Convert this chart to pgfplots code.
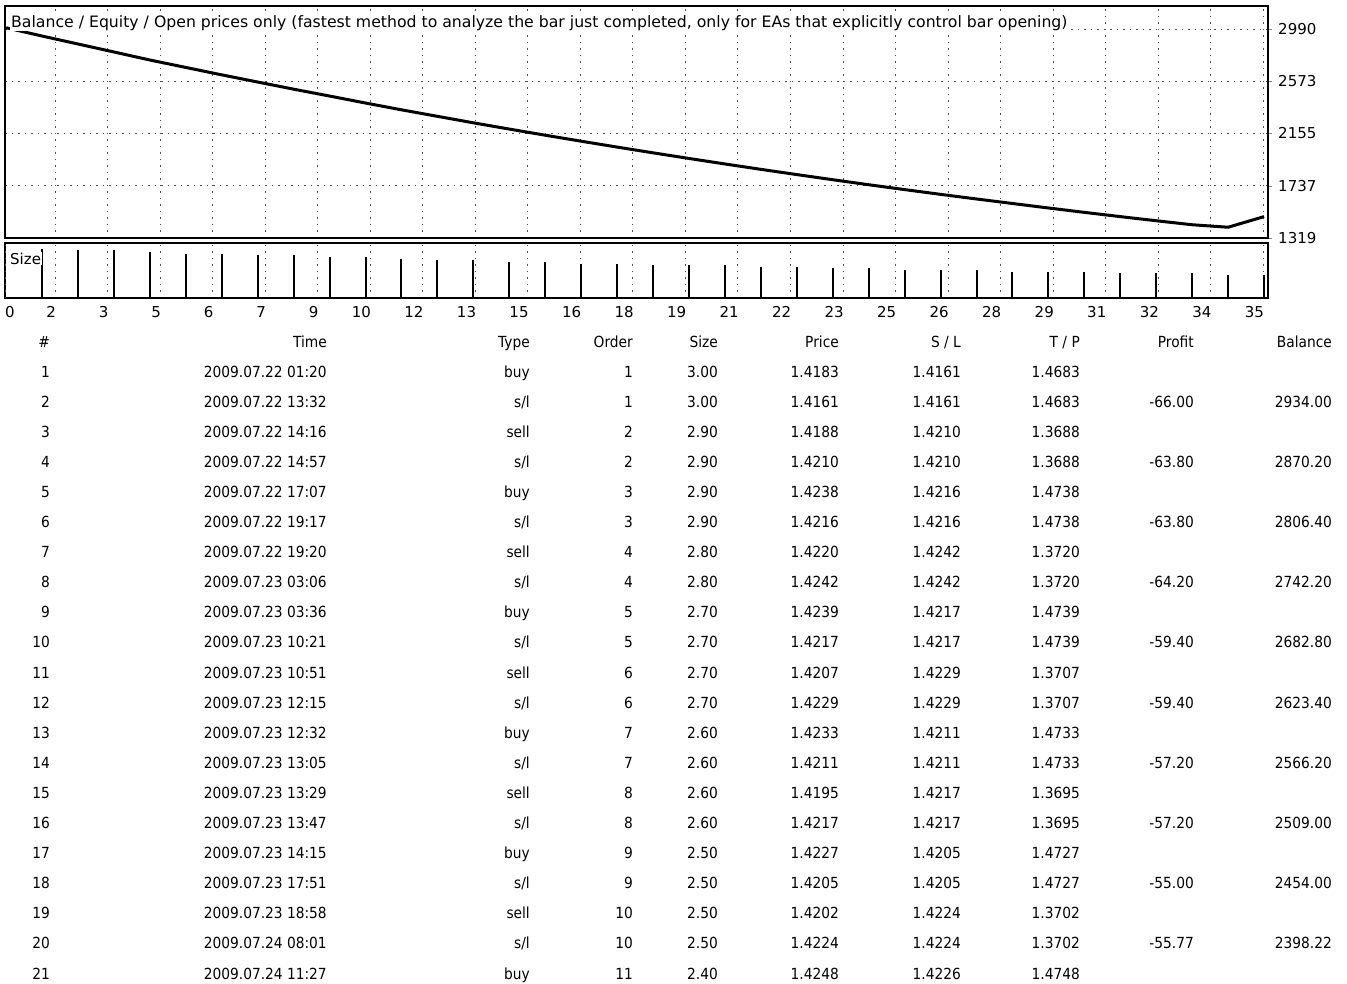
\documentclass[border=0pt]{standalone}
\usepackage{fontspec}
\setmainfont{DejaVu Sans}
\newfontfamily\tabfont{DejaVu Sans}[FakeStretch=0.9]
\usepackage{pgfplots}
\usepackage{pgfplotstable}
\pgfplotsset{compat=1.18}

% balance after each closed trade
\pgfplotstableread{
k  bal
0  3000
1  2934
2  2870.2
3  2806.4
4  2742.2
5  2682.8
6  2623.4
7  2566.2
8  2509
9  2454
10 2398.22
11 2344
12 2292
13 2240
14 2190
15 2141
16 2093
17 2046
18 2000
19 1955
20 1911
21 1868
22 1826
23 1785
24 1745
25 1706
26 1668
27 1631
28 1595
29 1559
30 1524
31 1490
32 1457
33 1425
34 1405
35 1490
}\balance

% lot size of each trade
\pgfplotstableread{
k  size
1  3.0
2  2.9
3  2.9
4  2.8
5  2.7
6  2.7
7  2.6
8  2.6
9  2.5
10 2.5
11 2.4
12 2.3
13 2.3
14 2.2
15 2.2
16 2.1
17 2.1
18 2.0
19 2.0
20 2.0
21 1.9
22 1.9
23 1.8
24 1.8
25 1.7
26 1.7
27 1.7
28 1.6
29 1.6
30 1.6
31 1.5
32 1.5
33 1.5
34 1.4
35 1.4
}\sizes

\pgfplotsset{
  mtgrid/.style={
    scale only axis, width=1263pt,
    xmin=-0.03, xmax=35.11,
    xtick={1.363,2.8243,...,35.05},
    xmajorgrids,
    grid style={line width=0.8pt, dash pattern=on 1.5pt off 5pt, black!70},
    axis line style={line width=1.8pt},
    /pgf/number format/assume math mode=true,
    /pgf/number format/1000 sep={},
  },
}

\begin{document}
\begin{tikzpicture}
\useasboundingbox (0,0) rectangle (1347pt,-983pt);

\begin{axis}[mtgrid,
  at={(5pt,-238pt)}, anchor=south west, height=232pt,
  ymin=1319, ymax=3174,
  xticklabels={}, xtick style={draw=none},
  ytick={1319,1737,2155,2573,2990}, ytick pos=right, yticklabel pos=right,
  tick align=outside, major tick length=4pt,
  ymajorgrids,
  y tick label style={font=\fontsize{15}{15}\selectfont, anchor=west, inner sep=0pt, xshift=6pt},
]
\addplot[black, line width=3pt] table[x=k, y=bal] {\balance};
\end{axis}

\begin{axis}[mtgrid,
  at={(5pt,-298pt)}, anchor=south west, height=55pt,
  ymin=0, ymax=3.35, ytick=\empty,
  xticklabels={2,3,5,6,7,9,10,12,13,15,16,18,19,21,22,23,25,26,28,29,31,32,34,35},
  tick style={draw=none},
  x tick label style={font=\fontsize{15}{15}\selectfont, anchor=north east, inner sep=0pt, xshift=1pt, yshift=-8pt},
  extra x ticks={-0.03}, extra x tick labels={0},
  extra x tick style={x tick label style={anchor=north west, xshift=-1pt}},
]
\addplot[ycomb, black, line width=2pt] table[x=k, y=size] {\sizes};
\end{axis}

\node[anchor=base west, fill=white, inner sep=1pt, font=\fontsize{15.7}{15.7}\selectfont] at (10pt,-27pt)
  {Balance / Equity / Open prices only (fastest method to analyze the bar just completed, only for EAs that explicitly control bar opening)};
\node[anchor=base west, fill=white, inner sep=1pt, font=\fontsize{15}{15}\selectfont] at (9pt,-264pt) {Size};

% trade list
\begin{scope}[every node/.style={anchor=base east, inner sep=0pt, font=\tabfont\fontsize{15.3}{15.3}\selectfont}]
\node at (50pt,-347pt) {\#};
\node at (327pt,-347pt) {Time};
\node at (530pt,-347pt) {Type};
\node at (633pt,-347pt) {Order};
\node at (718pt,-347pt) {Size};
\node at (839pt,-347pt) {Price};
\node at (961pt,-347pt) {S / L};
\node at (1080pt,-347pt) {T / P};
\node at (1194pt,-347pt) {Profit};
\node at (1332pt,-347pt) {Balance};
\foreach \t/\ty/\o/\s/\p/\sl/\tp/\pr/\b [count=\i] in {
{2009.07.22 01:20}/buy/1/3.00/1.4183/1.4161/1.4683/{}/{},
{2009.07.22 13:32}/{s/l}/1/3.00/1.4161/1.4161/1.4683/-66.00/2934.00,
{2009.07.22 14:16}/sell/2/2.90/1.4188/1.4210/1.3688/{}/{},
{2009.07.22 14:57}/{s/l}/2/2.90/1.4210/1.4210/1.3688/-63.80/2870.20,
{2009.07.22 17:07}/buy/3/2.90/1.4238/1.4216/1.4738/{}/{},
{2009.07.22 19:17}/{s/l}/3/2.90/1.4216/1.4216/1.4738/-63.80/2806.40,
{2009.07.22 19:20}/sell/4/2.80/1.4220/1.4242/1.3720/{}/{},
{2009.07.23 03:06}/{s/l}/4/2.80/1.4242/1.4242/1.3720/-64.20/2742.20,
{2009.07.23 03:36}/buy/5/2.70/1.4239/1.4217/1.4739/{}/{},
{2009.07.23 10:21}/{s/l}/5/2.70/1.4217/1.4217/1.4739/-59.40/2682.80,
{2009.07.23 10:51}/sell/6/2.70/1.4207/1.4229/1.3707/{}/{},
{2009.07.23 12:15}/{s/l}/6/2.70/1.4229/1.4229/1.3707/-59.40/2623.40,
{2009.07.23 12:32}/buy/7/2.60/1.4233/1.4211/1.4733/{}/{},
{2009.07.23 13:05}/{s/l}/7/2.60/1.4211/1.4211/1.4733/-57.20/2566.20,
{2009.07.23 13:29}/sell/8/2.60/1.4195/1.4217/1.3695/{}/{},
{2009.07.23 13:47}/{s/l}/8/2.60/1.4217/1.4217/1.3695/-57.20/2509.00,
{2009.07.23 14:15}/buy/9/2.50/1.4227/1.4205/1.4727/{}/{},
{2009.07.23 17:51}/{s/l}/9/2.50/1.4205/1.4205/1.4727/-55.00/2454.00,
{2009.07.23 18:58}/sell/10/2.50/1.4202/1.4224/1.3702/{}/{},
{2009.07.24 08:01}/{s/l}/10/2.50/1.4224/1.4224/1.3702/-55.77/2398.22,
{2009.07.24 11:27}/buy/11/2.40/1.4248/1.4226/1.4748/{}/{}}
{
  \pgfmathsetmacro\yy{-(377+30.1*(\i-1))}
  \node at (50pt,\yy pt) {\i};
  \node at (327pt,\yy pt) {\t};
  \node at (530pt,\yy pt) {\ty};
  \node at (633pt,\yy pt) {\o};
  \node at (718pt,\yy pt) {\s};
  \node at (839pt,\yy pt) {\p};
  \node at (961pt,\yy pt) {\sl};
  \node at (1080pt,\yy pt) {\tp};
  \node at (1194pt,\yy pt) {\pr};
  \node at (1332pt,\yy pt) {\b};
}
\end{scope}
\end{tikzpicture}
\end{document}
